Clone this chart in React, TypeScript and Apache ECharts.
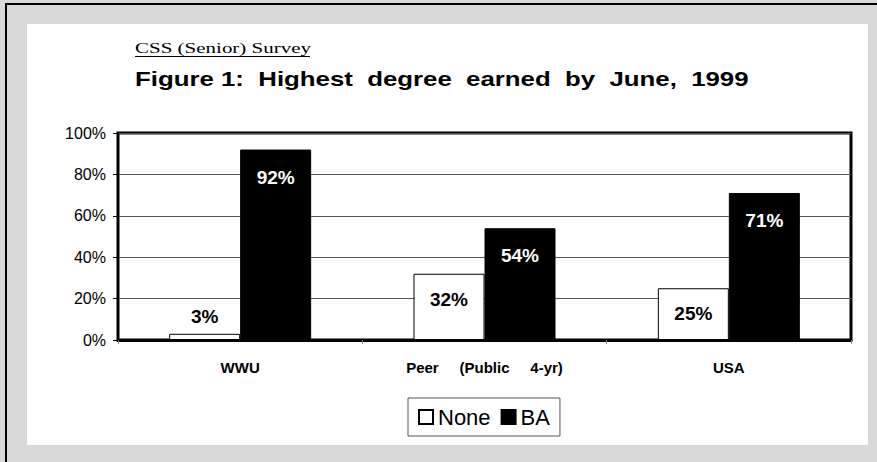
import React, { useEffect, useRef } from "react";
import * as echarts from "echarts";

const categories = ["WWU", "Peer     (Public     4-yr)", "USA"];
const noneValues = [3, 32, 25];
const baValues = [92, 54, 71];
const seriesNames = ["None", "BA"];
const subtitleText = "CSS (Senior) Survey";
const titleText = "Figure 1:  Highest  degree  earned  by  June,  1999";

export default function App() {
  const ref = useRef<HTMLDivElement>(null);
  useEffect(() => {
    if (!ref.current) return;
    const chart = echarts.init(ref.current, null, { renderer: "svg" });
    const font = "Liberation Sans";
    const option = {
      animation: false,
      backgroundColor: "#d9d9d9",
      graphic: {
        elements: [
          { type: "rect", z: -100, silent: true, shape: { x: 27, y: 24, width: 841, height: 421 }, style: { fill: "#ffffff" } },
          { type: "rect", silent: true, shape: { x: 5, y: 3, width: 872, height: 2 }, style: { fill: "#000" } },
          { type: "rect", silent: true, shape: { x: 5, y: 3, width: 2, height: 459 }, style: { fill: "#000" } },
          {
            type: "text", x: 135, y: 48, scaleX: 1.4,
            style: { text: subtitleText, fontSize: 15, fontFamily: "Liberation Serif", fill: "#000", verticalAlign: "middle" },
          },
          { type: "line", silent: true, shape: { x1: 135, y1: 56.5, x2: 310, y2: 56.5 }, style: { stroke: "#000", lineWidth: 1 } },
          {
            type: "text", x: 135, y: 79, scaleX: 1.29,
            style: { text: titleText, fontSize: 20, fontWeight: "bold", fontFamily: font, fill: "#000", verticalAlign: "middle" },
          },
        ],
      },
      grid: {
        left: 118, right: 26, top: 133, bottom: 122,
        show: true, borderColor: "#000", borderWidth: 3, backgroundColor: "transparent",
      },
      legend: {
        data: seriesNames,
        left: 408, top: 398,
        orient: "horizontal",
        itemWidth: 14, itemHeight: 14, itemGap: 10,
        padding: [8, 10, 8, 10],
        borderColor: "#555", borderWidth: 1,
        backgroundColor: "#fff",
        icon: "rect",
        textStyle: { fontSize: 22, fontFamily: font, color: "#000" },
      },
      xAxis: {
        type: "category",
        data: categories,
        axisLine: { lineStyle: { color: "#000", width: 3 } },
        axisTick: { show: true, length: 4, lineStyle: { color: "#888" } },
        axisLabel: { margin: 20, fontSize: 15, fontWeight: "bold", fontFamily: font, color: "#000" },
      },
      yAxis: {
        type: "value",
        min: 0, max: 100, interval: 20,
        axisLine: { show: true, lineStyle: { color: "#000", width: 2 } },
        axisTick: { show: true, length: 5, lineStyle: { color: "#000" } },
        axisLabel: { formatter: "{value}%", margin: 12, fontSize: 16, fontFamily: font, color: "#000" },
        splitLine: { show: true, lineStyle: { color: "#555", width: 1 } },
      },
      series: [
        {
          name: seriesNames[0],
          type: "bar",
          barWidth: 71,
          barGap: "0%",
          itemStyle: { color: "#ffffff", borderColor: "#000", borderWidth: 1 },
          label: {
            show: true, position: "insideTop", distance: 16, formatter: "{c}%",
            fontSize: 19, fontWeight: "bold", fontFamily: font, color: "#000",
          },
          data: noneValues.map((v, i) =>
            i === 0 ? { value: v, label: { position: "top", distance: 8 } } : v
          ),
        },
        {
          name: seriesNames[1],
          type: "bar",
          barWidth: 71,
          barGap: "0%",
          itemStyle: { color: "#000000", borderColor: "#000", borderWidth: 1 },
          label: {
            show: true, position: "insideTop", distance: 18, formatter: "{c}%",
            fontSize: 19, fontWeight: "bold", fontFamily: font, color: "#fff",
          },
          data: baValues,
        },
      ],
    };
    chart.setOption(option as any);
    return () => chart.dispose();
  }, []);
  return (
    <div
      ref={ref}
      style={{ position: "fixed", left: 0, top: 0, width: 877, height: 462 }}
    />
  );
}
